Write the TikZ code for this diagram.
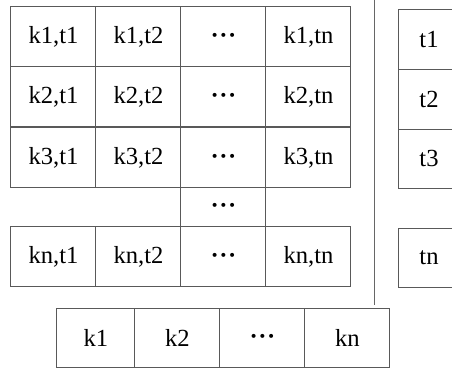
\documentclass[tikz,border=0pt]{standalone}
\usepackage{fontspec}
\setmainfont{Liberation Serif}
\newcommand{\mydots}{\vphantom{k,}\textbf{·\kern0.3pt·\kern0.3pt·}}
\begin{document}
\begin{tikzpicture}[x=0.5pt,y=-0.5pt,
  cell/.style={draw=black!65, line width=0.5pt, inner sep=0pt, minimum width=42.5pt, minimum height=30pt, font=\fontsize{12.3}{14}\selectfont},
  tcell/.style={cell, minimum width=30pt},
  sep/.style={draw=black!60, line width=0.5pt}]
\clip (0,0) rectangle (452,370);
% grid
\node[cell] (c11) at (53.5,36.5) {k1,t1};
\node[cell] (c12) at (138.5,36.5) {k1,t2};
\node[cell] (c13) at (223.5,36.5) {\mydots};
\node[cell] (c14) at (308.5,36.5) {k1,tn};
\node[cell] (c21) at (53.5,96.5) {k2,t1};
\node[cell] (c22) at (138.5,96.5) {k2,t2};
\node[cell] (c23) at (223.5,96.5) {\mydots};
\node[cell] (c24) at (308.5,96.5) {k2,tn};
\node[cell] (c31) at (53.5,157.5) {k3,t1};
\node[cell] (c32) at (138.5,157.5) {k3,t2};
\node[cell] (c33) at (223.5,157.5) {\mydots};
\node[cell] (c34) at (308.5,157.5) {k3,tn};
\node[cell, minimum height=19.5pt] (c43) at (223.5,207) {\mydots};
\node[cell] (c51) at (53.5,256.5) {kn,t1};
\node[cell] (c52) at (138.5,256.5) {kn,t2};
\node[cell] (c53) at (223.5,256.5) {\mydots};
\node[cell] (c54) at (308.5,256.5) {kn,tn};
% separator
\coordinate (s1) at (375,0);
\coordinate (s2) at (375,305);
\draw[sep] (s1) -- (s2);
% t column
\node[tcell] (t1) at (429,39) {t1};
\node[tcell] (t2) at (429,99) {t2};
\node[tcell, minimum height=29.5pt] (t3) at (429,158.5) {t3};
\node[tcell, minimum height=29.5pt] (tn) at (429,257.5) {tn};
% k row
\node[cell, minimum width=39pt] (k1) at (96,338) {k1};
\node[cell] (k2) at (177.5,338) {k2};
\node[cell] (k3) at (262.5,338) {\mydots};
\node[cell] (kn) at (347.5,338) {kn};
\end{tikzpicture}
\end{document}
